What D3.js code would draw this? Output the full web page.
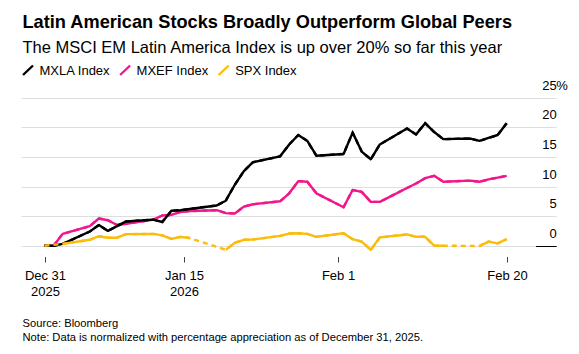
<!DOCTYPE html>
<html>
<head>
<meta charset="utf-8">
<script src="https://cdn.jsdelivr.net/npm/d3@7"></script>
<style>
  html, body { margin: 0; padding: 0; background: #fff; }
  svg { display: block; font-family: 'Liberation Sans', Arial, sans-serif; }
</style>
</head>
<body>
<div id="chart"></div>
<script>
// Latin America vs EM vs S&P 500, normalized % change since Dec 31 2025

const DATES = [
  '2025-12-31', '2026-01-01', '2026-01-02', '2026-01-05', '2026-01-06', '2026-01-07',
  '2026-01-08', '2026-01-09', '2026-01-12', '2026-01-13', '2026-01-14', '2026-01-15',
  '2026-01-16', '2026-01-19', '2026-01-20', '2026-01-21', '2026-01-22', '2026-01-23',
  '2026-01-26', '2026-01-27', '2026-01-28', '2026-01-29', '2026-01-30', '2026-02-02',
  '2026-02-03', '2026-02-04', '2026-02-05', '2026-02-06', '2026-02-09', '2026-02-10',
  '2026-02-11', '2026-02-12', '2026-02-13', '2026-02-16', '2026-02-17', '2026-02-18',
  '2026-02-19', '2026-02-20',
];

// null = no close that day (holiday), bridged with a dashed segment
const MXLA = [
  0, 0, 0.3, 2.4, 3.5, 2.5, 3.3, 4.1, 4.4, 4.0, 5.9, 6.0,
  6.2, 6.8, 7.6, 10.3, 12.6, 14.1, 15.1, 17.1, 18.7, 17.7, 15.2, 15.5,
  19.1, 15.9, 14.6, 17.1, 19.8, 18.8, 20.7, 19.2, 18.0, 18.1, 17.7, 18.2,
  18.7, 20.7,
];
const MXEF = [
  0, 0, 2.0, 3.3, 4.6, 4.3, 3.5, 3.7, 4.4, 5.1, 5.2, 5.7,
  5.85, 6.0, 5.5, 5.45, 6.6, 7.0, 7.5, 8.85, 10.9, 10.8, 8.85, 6.5,
  9.4, 9.1, 7.4, 7.4, 9.75, 10.5, 11.4, 11.8, 10.8, 11.0, 10.8, 11.2,
  11.5, 11.8,
];
const SPX = [
  0, null, 0.3, 1.0, 1.6, 1.35, 1.35, 1.95, 2.0, 1.75, 1.15, 1.5,
  1.3, null, -0.7, 0.5, 1.0, 1.05, 1.65, 2.05, 2.1, 2.0, 1.5, 2.1,
  1.1, 0.7, -0.7, 1.4, 1.9, 1.5, 1.5, 0.0, 0.0, null, -0.05, 0.7,
  0.4, 1.1,
];

const SERIES = [
  { name: 'MXLA Index', values: MXLA, color: '#000000' },
  { name: 'MXEF Index', values: MXEF, color: '#f2168c' },
  { name: 'SPX Index',  values: SPX,  color: '#fcbc0a' },
];
// drawing order: EM underneath, S&P on top
const DRAW_ORDER = ['MXEF Index', 'MXLA Index', 'SPX Index'];

const Y_TICKS = [0, 5, 10, 15, 20, 25];
const X_TICKS = [
  { date: '2025-12-31', lines: ['Dec 31', '2025'] },
  { date: '2026-01-15', lines: ['Jan 15', '2026'] },
  { date: '2026-02-01', lines: ['Feb 1'] },
  { date: '2026-02-20', lines: ['Feb 20'] },
];

const TITLE = 'Latin American Stocks Broadly Outperform Global Peers';
const SUBTITLE = 'The MSCI EM Latin America Index is up over 20% so far this year';
const SOURCE = 'Source: Bloomberg';
const NOTE = 'Note: Data is normalized with percentage appreciation as of December 31, 2025.';

const W = 579, H = 354;
const parse = d3.utcParse('%Y-%m-%d');
const dates = DATES.map(parse);

const svg = d3.select('#chart').append('svg')
  .attr('width', W).attr('height', H)
  .attr('viewBox', `0 0 ${W} ${H}`);

// header
svg.append('text')
  .attr('x', 22.5).attr('y', 27.5)
  .attr('font-size', 18.2).attr('font-weight', 700)
  .attr('fill', '#000')
  .text(TITLE);

svg.append('text')
  .attr('x', 22.5).attr('y', 52.5)
  .attr('font-size', 16.5)
  .attr('fill', '#000')
  .text(SUBTITLE);

// legend with slash markers
const legend = svg.append('g').attr('transform', 'translate(22.5, 75)');
let lx = 0;
SERIES.forEach(s => {
  legend.append('line')
    .attr('x1', lx + 0.5).attr('y1', 0)
    .attr('x2', lx + 10.5).attr('y2', -9.5)
    .attr('stroke', s.color).attr('stroke-width', 2.4)
    .attr('stroke-linecap', 'butt');
  const t = legend.append('text')
    .attr('x', lx + 17).attr('y', 0)
    .attr('font-size', 13).attr('fill', '#000')
    .text(s.name);
  lx += 17 + t.node().getComputedTextLength() + 10;
});

// scales
const x = d3.scaleUtc()
  .domain([dates[0], dates[dates.length - 1]])
  .range([44.5, 506.7]);

const y = d3.scaleLinear()
  .domain([0, 25])
  .range([245.7, 97.7]);

const gridLeft = 21.7, gridRight = 556.7;

// gridlines + right-hand labels
const grid = svg.append('g');
grid.selectAll('line.grid')
  .data(Y_TICKS)
  .join('line')
  .attr('class', 'grid')
  .attr('x1', gridLeft).attr('x2', gridRight)
  .attr('y1', d => Math.round(y(d)) + 0.5)
  .attr('y2', d => Math.round(y(d)) + 0.5)
  .attr('stroke', '#dedede')
  .attr('stroke-width', 1.2);

// dark zero stub under the "0" label
grid.append('line')
  .attr('x1', 536).attr('x2', gridRight)
  .attr('y1', Math.round(y(0)) + 0.5).attr('y2', Math.round(y(0)) + 0.5)
  .attr('stroke', '#000').attr('stroke-width', 1);

const yLabels = grid.selectAll('text.ylab')
  .data(Y_TICKS)
  .join('text')
  .attr('class', 'ylab')
  .attr('x', gridRight)
  .attr('y', d => y(d) - 8)
  .attr('text-anchor', 'end')
  .attr('font-size', 13)
  .attr('fill', '#000')
  .text(d => d);

// percent sign hangs past the label column on the top tick only
grid.append('text')
  .attr('x', gridRight - 0.5)
  .attr('y', y(d3.max(Y_TICKS)) - 8)
  .attr('font-size', 13)
  .attr('fill', '#000')
  .text('%');

// x axis: small ticks, two-line labels
// the source nudges the interior ticks a little to the right of midnight
const TICK_NUDGE_MS = 9.8 * 3600 * 1000;
const xt = svg.append('g');
X_TICKS.forEach((t, i) => {
  let d = parse(t.date);
  if (i > 0 && i < X_TICKS.length - 1) d = new Date(+d + TICK_NUDGE_MS);
  const px = Math.round(x(d)) + 0.5;
  xt.append('line')
    .attr('x1', px).attr('x2', px)
    .attr('y1', 257).attr('y2', 262.5)
    .attr('stroke', '#444').attr('stroke-width', 1);
  t.lines.forEach((ln, j) => {
    xt.append('text')
      .attr('x', px)
      .attr('y', 280 + j * 15.7)
      .attr('text-anchor', 'middle')
      .attr('font-size', 13)
      .attr('fill', '#000')
      .text(ln);
  });
});

// lines
const rows = SERIES.map(s => ({
  ...s,
  points: s.values.map((v, i) => ({ date: dates[i], v })),
}));

const lineGen = d3.line()
  .x(d => x(d.date))
  .y(d => y(d.v))
  .defined(d => d.v != null);

const plot = svg.append('g');
DRAW_ORDER.forEach(name => {
  const s = rows.find(r => r.name === name);
  // dashed bridge across missing days
  plot.append('path')
    .datum(s.points.filter(p => p.v != null))
    .attr('fill', 'none')
    .attr('stroke', s.color)
    .attr('stroke-width', 2.4)
    .attr('stroke-dasharray', '5,4')
    .attr('d', lineGen);
  plot.append('path')
    .datum(s.points)
    .attr('fill', 'none')
    .attr('stroke', s.color)
    .attr('stroke-width', 2.4)
    .attr('stroke-linejoin', 'round')
    .attr('d', lineGen);
});

// footer
svg.append('text')
  .attr('x', 22.5).attr('y', 327.3)
  .attr('font-size', 11.2).attr('fill', '#000')
  .text(SOURCE);
svg.append('text')
  .attr('x', 22.5).attr('y', 340.7)
  .attr('font-size', 11.2).attr('fill', '#000')
  .text(NOTE);
</script>
</body>
</html>
